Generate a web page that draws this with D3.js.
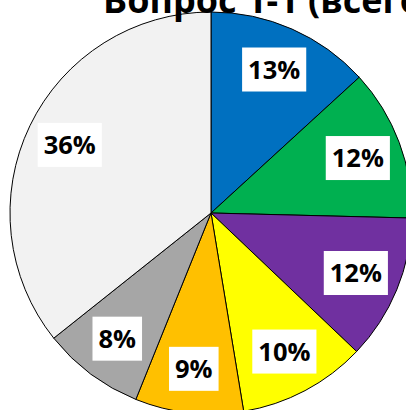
<!DOCTYPE html>
<html>
<head>
<meta charset="utf-8">
<script src="https://cdn.jsdelivr.net/npm/d3@7"></script>
<style>
  html, body { margin: 0; padding: 0; background: #ffffff; }
  svg { display: block; }
</style>
</head>
<body>
<svg id="chart" width="406" height="410"></svg>
<script>
const categories = ["Вариант 1", "Вариант 2", "Вариант 3", "Вариант 4", "Вариант 5", "Вариант 6", "Вариант 7"];
const values = [13.2, 12.2, 11.7, 10.3, 8.7, 8.2, 35.7];
const colors = ["#0070c0", "#00b050", "#7030a0", "#ffff00", "#ffc000", "#a6a6a6", "#f2f2f2"];
const titleText = "Вопрос 1-1 (всего ответов)";

const svg = d3.select("#chart");
const cx = 211, cy = 213, R = 201;

const total = d3.sum(values);
const data = categories.map((c, i) => ({ category: c, value: values[i], color: colors[i] }));

const pie = d3.pie().value(d => d.value).sort(null).startAngle(0).endAngle(2 * Math.PI);
const arc = d3.arc().innerRadius(0).outerRadius(R);
const labelArc = d3.arc().innerRadius(R * 0.78).outerRadius(R * 0.78);

const g = svg.append("g").attr("transform", `translate(${cx},${cy})`);

const arcs = pie(data);

g.selectAll("path.slice")
  .data(arcs)
  .join("path")
  .attr("class", "slice")
  .attr("d", arc)
  .attr("fill", d => d.data.color)
  .attr("stroke", "#000000")
  .attr("stroke-width", 1)
  .attr("stroke-linejoin", "round");

const fmt = v => Math.round(v / total * 100) + "%";

const labels = g.selectAll("g.label")
  .data(arcs)
  .join("g")
  .attr("class", "label")
  .attr("transform", d => `translate(${labelArc.centroid(d)})`);

labels.each(function(d) {
  const sel = d3.select(this);
  const rect = sel.append("rect").attr("fill", "#ffffff");
  const t = sel.append("text")
    .attr("text-anchor", "middle")
    .attr("dy", "0.36em")
    .attr("font-family", "'Open Sans', sans-serif")
    .attr("font-weight", "bold")
    .attr("font-size", 25.5)
    .attr("fill", "#000000")
    .text(fmt(d.data.value));
  const w = t.node().getComputedTextLength() + 12;
  const h = 44;
  rect.attr("x", -w / 2).attr("y", -h / 2).attr("width", w).attr("height", h);
});

svg.append("text")
  .attr("x", 103)
  .attr("y", 12.5)
  .attr("font-family", "'Open Sans', sans-serif")
  .attr("font-weight", "bold")
  .attr("font-size", 36)
  .attr("fill", "#000000")
  .text(titleText);
</script>
</body>
</html>
